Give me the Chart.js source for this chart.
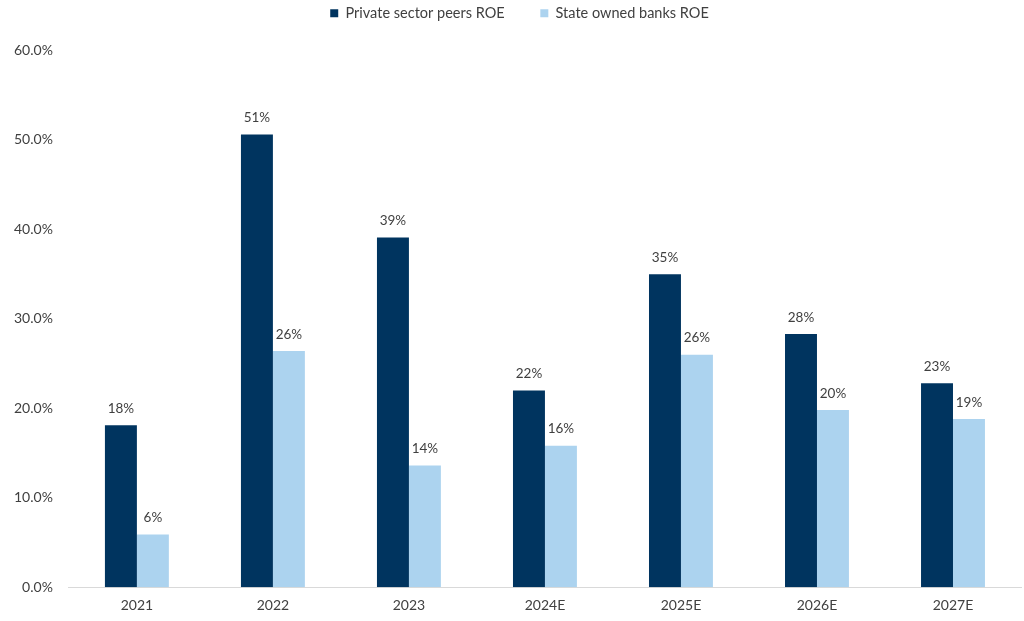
<!DOCTYPE html>
<html>
<head>
<meta charset="utf-8">
<script src="https://cdn.jsdelivr.net/npm/chart.js@4"></script>
<style>
  html, body { margin: 0; padding: 0; background: #fff; }
  #wrap { width: 1024px; height: 621px; }
</style>
</head>
<body>
<div id="wrap"><canvas id="c"></canvas></div>
<script>
const years = ['2021', '2022', '2023', '2024E', '2025E', '2026E', '2027E']
const privateRoe = [18.1, 50.6, 39.1, 22.0, 35.0, 28.3, 22.8]
const stateRoe = [5.9, 26.4, 13.6, 15.8, 26.0, 19.8, 18.8]
const seriesNames = ['Private sector peers ROE', 'State owned banks ROE']

const fontFamily = 'Lato, "Open Sans", sans-serif'
const textColor = '#404040'

// value labels above each bar
const barLabels = {
    id: 'barLabels',
    afterDatasetsDraw(chart) {
        const ctx = chart.ctx
        ctx.save()
        ctx.font = '13.5px ' + fontFamily
        ctx.fillStyle = textColor
        ctx.textAlign = 'center'
        ctx.textBaseline = 'bottom'
        chart.data.datasets.forEach((ds, i) => {
            chart.getDatasetMeta(i).data.forEach((bar, j) => {
                ctx.fillText(Math.round(ds.data[j]) + '%', bar.x, bar.y - 10)
            })
        })
        ctx.restore()
    }
}

// extra room under the legend so the plot keeps its top, legend nudged right
const legendTweak = {
    id: 'legendTweak',
    beforeInit(chart) {
        const legend = chart.legend
        const fit = legend.fit
        legend.fit = function () {
            fit.apply(this, arguments)
            this.height += 20
        }
        const draw = legend.draw
        legend.draw = function () {
            const ctx = this.ctx
            ctx.save()
            ctx.translate(10, 0)
            draw.apply(this, arguments)
            ctx.restore()
        }
    }
}

new Chart(document.getElementById('c'), {
    type: 'bar',
    data: {
        labels: years,
        datasets: [
            {
                label: seriesNames[0],
                data: privateRoe,
                backgroundColor: '#00345f',
                categoryPercentage: 0.47,
                barPercentage: 1.0
            },
            {
                label: seriesNames[1],
                data: stateRoe,
                backgroundColor: '#acd3ef',
                categoryPercentage: 0.47,
                barPercentage: 1.0
            }
        ]
    },
    options: {
        responsive: true,
        maintainAspectRatio: false,
        animation: false,
        layout: { padding: { left: -2, right: 3, top: 0, bottom: -3 } },
        plugins: {
            legend: {
                position: 'top',
                labels: {
                    boxWidth: 8,
                    boxHeight: 8,
                    padding: 6,
                    color: textColor,
                    font: { family: fontFamily, size: 14.5 },
                    generateLabels(chart) {
                        const items = Chart.defaults.plugins.legend.labels.generateLabels(chart)
                        items[0].text = items[0].text + '        '
                        return items
                    }
                }
            },
            tooltip: { enabled: false }
        },
        scales: {
            x: {
                grid: { display: false, drawTicks: false },
                border: { color: '#d9d9d9' },
                ticks: { color: textColor, padding: 10, font: { family: fontFamily, size: 14 } }
            },
            y: {
                min: 0,
                max: 60,
                grid: { display: false, drawTicks: false },
                border: { display: false },
                ticks: {
                    stepSize: 10,
                    padding: 16,
                    color: textColor,
                    font: { family: fontFamily, size: 14 },
                    callback: v => v.toFixed(1) + '%'
                }
            }
        }
    },
    plugins: [barLabels, legendTweak]
})
</script>
</body>
</html>
